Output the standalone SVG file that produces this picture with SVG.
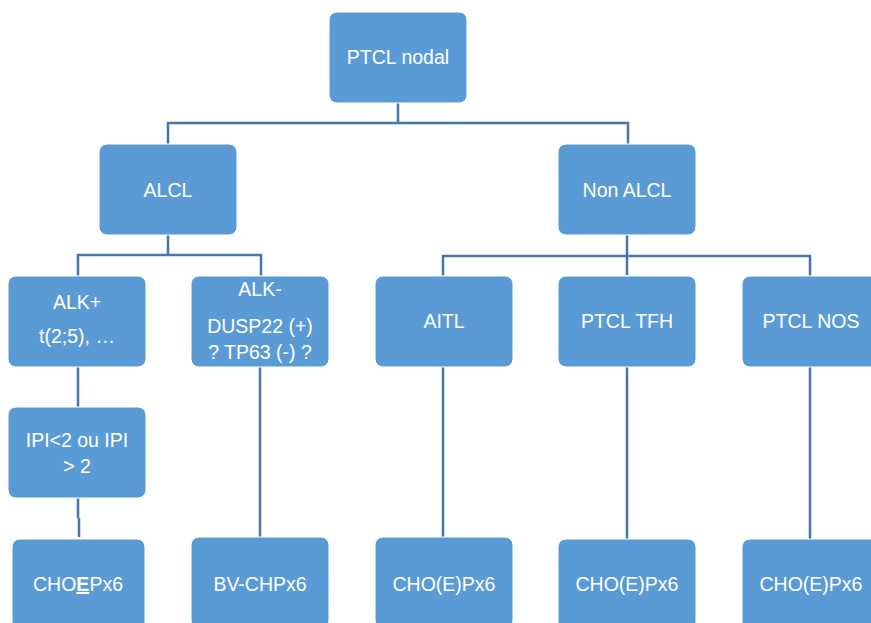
<svg xmlns="http://www.w3.org/2000/svg" width="871" height="623" viewBox="0 0 871 623">
<style>
.box{fill:#5B9BD5;stroke:#FFFFFF;stroke-width:1}
.t{font-family:"Liberation Sans",Arial,sans-serif;font-size:19.5px;fill:#FFFFFF;text-anchor:middle}
.c{fill:none;stroke:#4676AC;stroke-width:2.5}
</style>
<rect width="871" height="623" fill="#FFFFFF"/>
<g id="connectors">
<path class="c" d="M398 103V123M168 144V123H628V144"/>
<path class="c" d="M168 235V255M78 276V255H261V276"/>
<path class="c" d="M627 235V275M443 276V256H810V276"/>
<path class="c" d="M78 367V407M78 498V518M79 518V537"/>
<path class="c" d="M260 367V537"/>
<path class="c" d="M443 367V537M627 367V539M810 367V539"/>
</g>
<g id="n-ptcl-nodal"><rect class="box" x="329" y="12" width="138" height="91" rx="8"/><text class="t" x="398" y="64">PTCL nodal</text></g>
<g id="n-alcl"><rect class="box" x="99" y="144" width="138" height="91" rx="8"/><text class="t" x="168" y="197">ALCL</text></g>
<g id="n-non-alcl"><rect class="box" x="558" y="144" width="138" height="91" rx="8"/><text class="t" x="627" y="197">Non ALCL</text></g>
<g id="n-alk-pos"><rect class="box" x="8" y="276" width="138" height="91" rx="8"/><text class="t" x="77" y="309">ALK+</text><text class="t" x="77" y="343">t(2;5), …</text></g>
<g id="n-alk-neg"><rect class="box" x="191" y="276" width="138" height="91" rx="8"/><text class="t" x="260" y="296">ALK-</text><text class="t" x="260" y="333">DUSP22 (+)</text><text class="t" x="260" y="359">? TP63 (-) ?</text></g>
<g id="n-aitl"><rect class="box" x="375" y="276" width="138" height="91" rx="8"/><text class="t" x="444" y="328">AITL</text></g>
<g id="n-ptcl-tfh"><rect class="box" x="558" y="276" width="138" height="91" rx="8"/><text class="t" x="627" y="328">PTCL TFH</text></g>
<g id="n-ptcl-nos"><rect class="box" x="742" y="276" width="138" height="91" rx="8"/><text class="t" x="811" y="328">PTCL NOS</text></g>
<g id="n-ipi"><rect class="box" x="8" y="407" width="138" height="91" rx="8"/><text class="t" x="77" y="447">IPI&lt;2 ou IPI</text><text class="t" x="77" y="473">&gt; 2</text></g>
<g id="n-choep"><rect class="box" x="12" y="539" width="133" height="91" rx="8"/><text class="t" x="78" y="591">CHO<tspan text-decoration="underline" font-weight="bold">E</tspan>Px6</text></g>
<g id="n-bv-chp"><rect class="box" x="191" y="537" width="138" height="91" rx="8"/><text class="t" x="260" y="591">BV-CHPx6</text></g>
<g id="n-chop-aitl"><rect class="box" x="375" y="537" width="138" height="91" rx="8"/><text class="t" x="444" y="591">CHO(E)Px6</text></g>
<g id="n-chop-tfh"><rect class="box" x="558" y="539" width="138" height="91" rx="8"/><text class="t" x="627" y="591">CHO(E)Px6</text></g>
<g id="n-chop-nos"><rect class="box" x="742" y="539" width="138" height="91" rx="8"/><text class="t" x="811" y="591">CHO(E)Px6</text></g>
</svg>
